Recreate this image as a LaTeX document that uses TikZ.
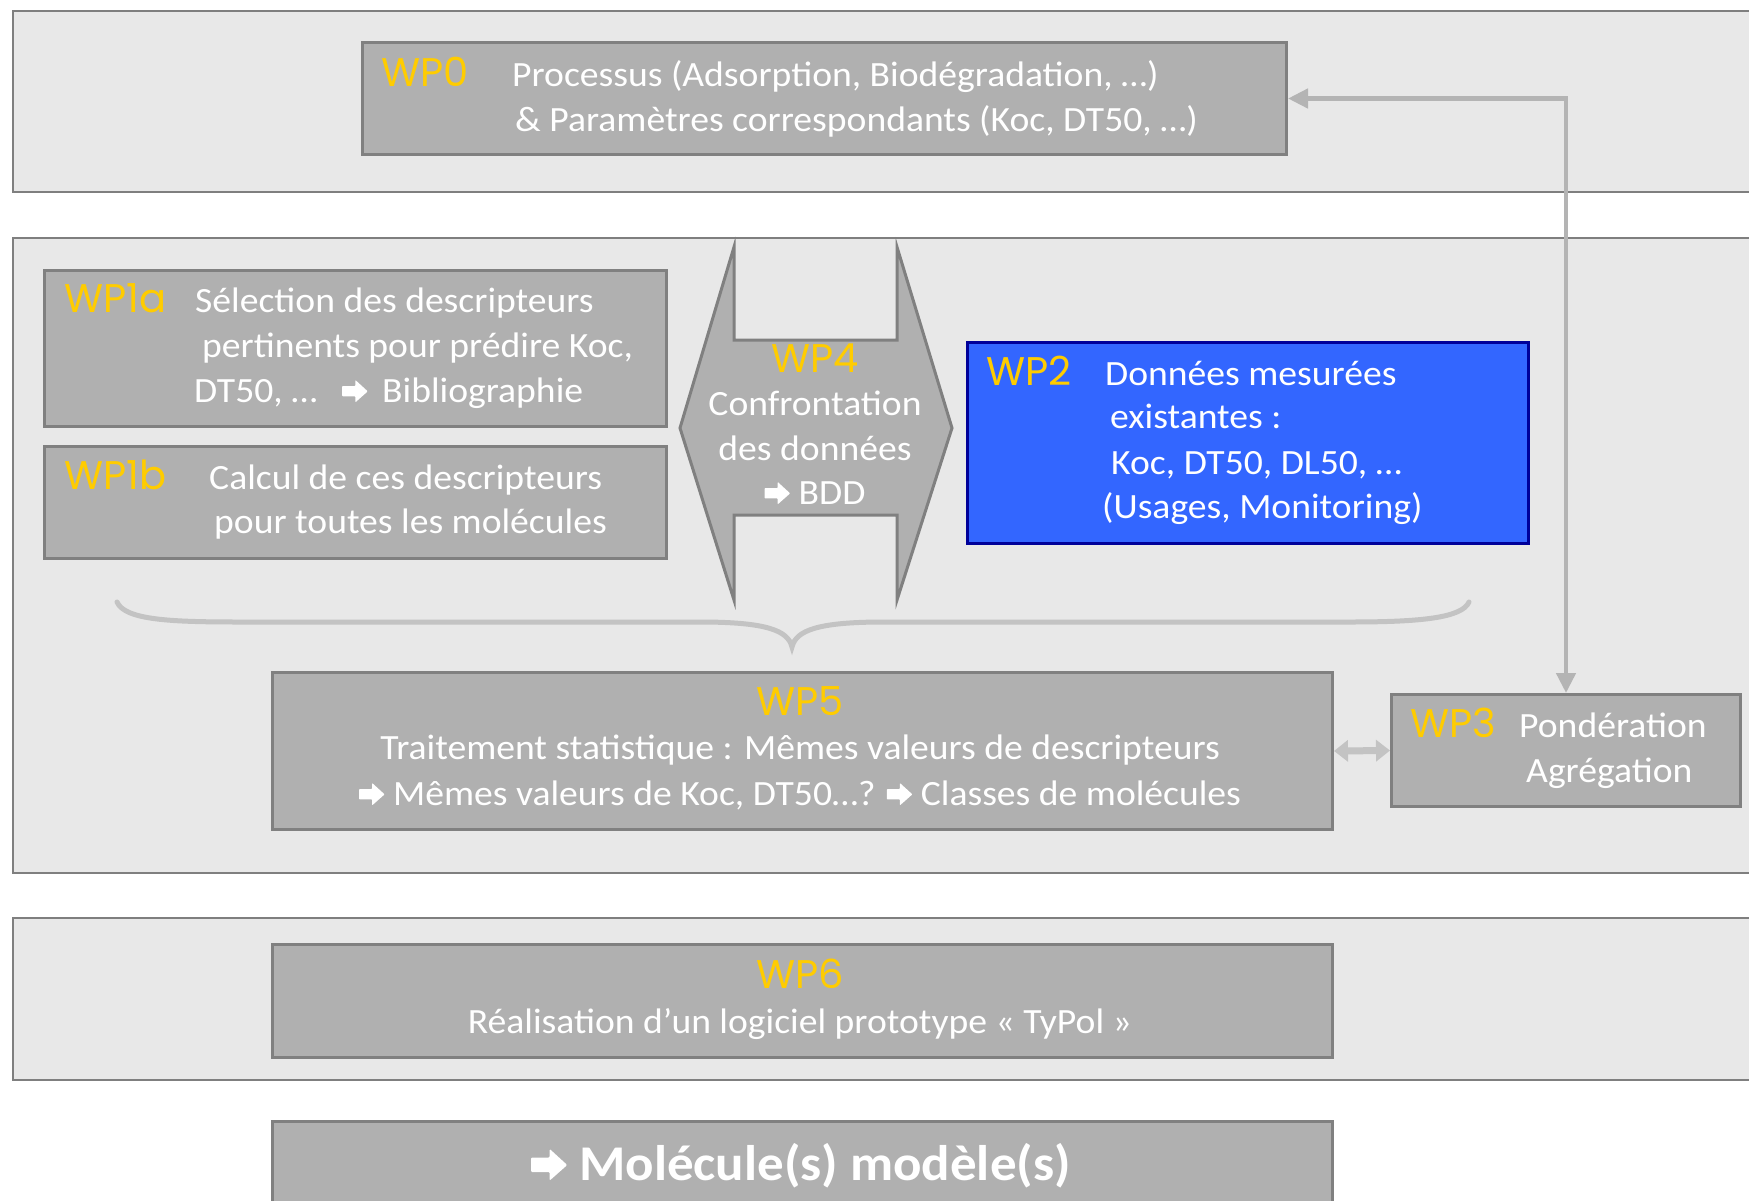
\documentclass[tikz,border=0pt]{standalone}
\usepackage{fontspec}
\setmainfont{Carlito}[FakeStretch=1.06]
\newfontfamily\wpf{Poppins}
\usetikzlibrary{arrows.meta}
\newcommand\rarr{\tikz[x=1em,y=1em,baseline=0pt]\fill[white,rounded corners=0.02em] (0,0.16)--(0.37,0.16)--(0.37,-0.01)--(0.72,0.3)--(0.37,0.62)--(0.37,0.45)--(0,0.45)--cycle;}
\definecolor{pfill}{HTML}{E8E8E8}
\definecolor{pborder}{HTML}{7F7F7F}
\definecolor{bfill}{HTML}{B0B0B0}
\definecolor{bborder}{HTML}{808080}
\definecolor{wpc}{HTML}{FFCC00}
\definecolor{bluefill}{HTML}{3366FF}
\definecolor{blueborder}{HTML}{000099}
\definecolor{connc}{HTML}{B4B4B4}
\definecolor{bracec}{HTML}{C3C3C3}
\tikzset{
  panel/.style={draw=pborder, fill=pfill, line width=2.5pt},
  box/.style={draw=bborder, fill=bfill, line width=3pt, inner sep=0, anchor=north west},
  bluebox/.style={draw=blueborder, fill=bluefill, line width=3pt, inner sep=0, anchor=north west},
  txt/.style={text=white, font=\fontsize{35.5}{40}\selectfont, inner sep=0, anchor=base west},
  ctxt/.style={text=white, font=\fontsize{35.5}{40}\selectfont, inner sep=0, anchor=base},
  wp/.style={text=wpc, font=\wpf\fontsize{40}{46}\selectfont, inner sep=0, anchor=base west},
  cwp/.style={text=wpc, font=\wpf\fontsize{40}{46}\selectfont, inner sep=0, anchor=base},
  conn/.style={draw=connc, line width=4.5pt, {Triangle[length=20pt,width=19pt]}-{Triangle[length=20pt,width=19pt]}},
  dconn/.style={draw=bracec, line width=7pt, {Triangle[length=14pt,width=21pt]}-{Triangle[length=14pt,width=21pt]}},
}
\begin{document}
\begin{tikzpicture}[x=1pt,y=-1pt]
\useasboundingbox (0,0) rectangle (1749,1200);
\clip (0,0) rectangle (1749,1200);
\fill[white] (0,0) rectangle (1749,1200);
% panels
\draw[panel] (13,11) rectangle (1780,192);
\draw[panel] (13,238) rectangle (1780,873);
\draw[panel] (13,918) rectangle (1780,1080);
% WP0
\node[box, minimum width=924pt, minimum height=112pt] (wp0) at (361,41) {};
\node[wp] (wp0l) at (381,86) {WP0};
\node[txt] (wp0a) at (512,86) {Processus (Adsorption, Biodégradation, …)};
\node[txt] (wp0b) at (515,131) {\& Paramètres correspondants (Koc, DT50, …)};
% WP1a
\node[box, minimum width=622pt, minimum height=156pt] (wp1a) at (43,269) {};
\node[wp] (wp1al) at (64,312) {WP1a};
\node[txt] (wp1a1) at (195,312) {Sélection des descripteurs};
\node[txt] (wp1a2) at (202,357) {pertinents pour prédire Koc,};
\node[txt] (wp1a3) at (194,402) {DT50, …};
\node[txt] (wp1a4) at (342,402) {\rarr};
\node[txt] (wp1a5) at (382,402) {Bibliographie};
% WP1b
\node[box, minimum width=622pt, minimum height=112pt] (wp1b) at (43,445) {};
\node[wp] (wp1bl) at (64,489) {WP1b};
\node[txt] (wp1b1) at (209,489) {Calcul de ces descripteurs};
\node[txt] (wp1b2) at (214,533) {pour toutes les molécules};
% WP4
\draw[draw=bborder, fill=bfill, line width=3pt, line join=miter]
  (734,247) -- (680,428) -- (734,600) -- (734,515) -- (897,515) -- (897,600)
  -- (952,428) -- (897,247) -- (897,340) -- (734,340) -- cycle;
\node[cwp] (wp4l) at (815,372) {WP4};
\node[ctxt] (wp4a) at (815,415) {Confrontation};
\node[ctxt] (wp4b) at (815,460) {des données};
\node[ctxt] (wp4c) at (815,504) {\rarr\ BDD};
% WP2
\node[bluebox, minimum width=561pt, minimum height=201pt] (wp2) at (966,341) {};
\node[wp] (wp2l) at (986,385) {WP2};
\node[txt] (wp2a) at (1105,385) {Données mesurées};
\node[txt] (wp2b) at (1110,428) {existantes :};
\node[txt] (wp2c) at (1111,474) {Koc, DT50, DL50, …};
\node[txt] (wp2d) at (1102,518) {(Usages, Monitoring)};
% brace
\draw[draw=bracec, line width=5pt, line cap=round]
  (117,602) .. controls (125,620) and (170,622) .. (240,622) -- (700,622)
  .. controls (765,622) and (788,630) .. (792,647)
  .. controls (796,630) and (819,622) .. (884,622) -- (1350,622)
  .. controls (1420,622) and (1462,618) .. (1469,602);
% WP5
\node[box, minimum width=1060pt, minimum height=157pt] (wp5) at (271,671) {};
\node[cwp] (wp5l) at (800,715) {WP5};
\node[ctxt] (wp5a) at (800,759) {Traitement statistique : Mêmes valeurs de descripteurs};
\node[ctxt] (wp5b) at (800,805) {\rarr\ Mêmes valeurs de Koc, DT50…? \rarr\ Classes de molécules};
% WP3
\node[box, minimum width=349pt, minimum height=112pt] (wp3) at (1390,693) {};
\node[wp] (wp3l) at (1410,737) {WP3};
\node[txt] (wp3a) at (1519,737) {Pondération};
\node[txt] (wp3b) at (1526,782) {Agrégation};
% WP6
\node[box, minimum width=1060pt, minimum height=113pt] (wp6) at (271,943) {};
\node[cwp] (wp6l) at (800,988) {WP6};
\node[ctxt] (wp6a) at (800,1033) {Réalisation d’un logiciel prototype « TyPol »};
% final
\node[box, minimum width=1060pt, minimum height=140pt] (fin) at (271,1120) {};
\node[text=white, font=\bfseries\fontsize{50}{60}\selectfont, inner sep=0, anchor=base] (fint) at (801,1180) {\rarr\ Molécule(s) modèle(s)};
% connectors
\draw[conn] (wp0.east) -| (wp3.north);
\draw[dconn] (wp5.east) -- (wp3.west);
\end{tikzpicture}
\end{document}
